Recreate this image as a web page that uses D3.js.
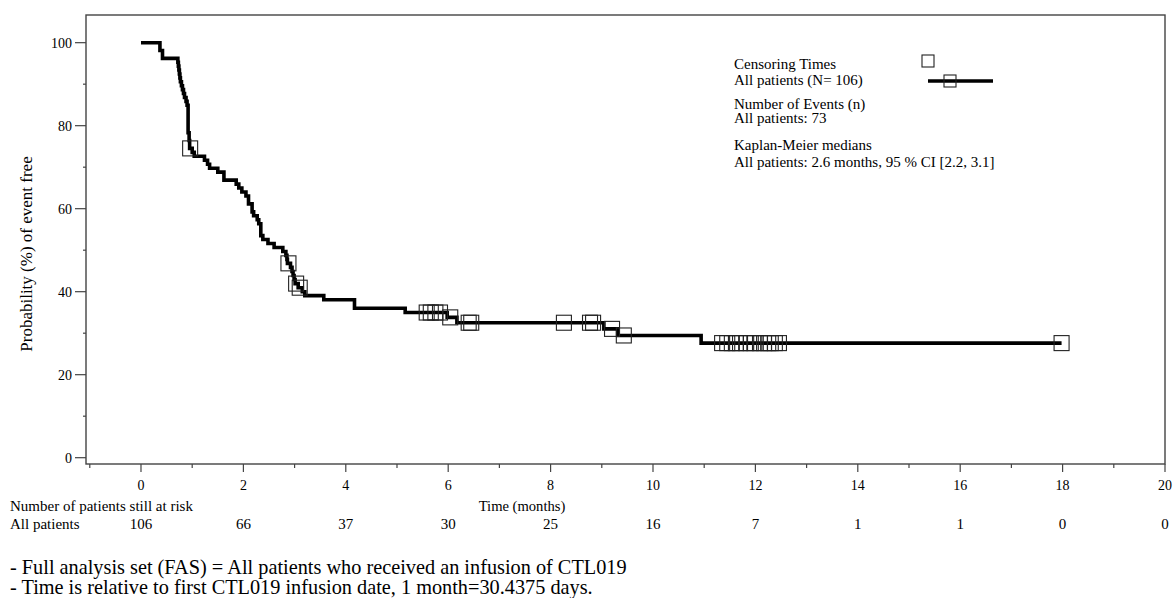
<!DOCTYPE html>
<html>
<head>
<meta charset="utf-8">
<script src="https://cdn.jsdelivr.net/npm/d3@7"></script>
<style>
  html, body { margin: 0; padding: 0; background: #fff; }
  svg { display: block; }
  text { font-family: "Liberation Serif", "Times New Roman", serif; fill: #000; }
</style>
</head>
<body>
<svg id="chart" width="1176" height="598"></svg>
<script>
// Kaplan-Meier step curve: event times (months) and survival (%) after each step
const stepTimes = [0, 0.37, 0.42, 0.72, 0.73, 0.74, 0.75, 0.76, 0.77, 0.79, 0.81, 0.83, 0.85, 0.88, 0.90,
  0.92, 0.94, 0.95, 1.00, 1.04, 1.24, 1.30, 1.34, 1.50, 1.62, 1.86, 1.91, 1.97, 2.05, 2.10, 2.17,
  2.20, 2.27, 2.30, 2.34, 2.38, 2.48, 2.60, 2.77, 2.83, 2.85, 2.86, 2.92, 2.95, 2.97, 2.99, 3.01,
  3.07, 3.15, 3.20, 3.57, 4.17, 5.16, 5.98, 6.17, 9.04, 9.31, 10.94];
const stepSurvival = [100, 98.11, 96.23, 95.28, 94.34, 93.40, 92.45, 91.51, 90.57, 89.62, 88.68, 87.74, 86.79, 85.85, 84.91,
  78.30, 76.42, 74.53, 73.57, 72.62, 71.66, 70.71, 69.75, 68.80, 66.89, 65.93, 64.98, 64.02, 63.06, 61.15, 59.24,
  58.29, 57.33, 56.38, 53.51, 52.56, 51.60, 50.65, 49.69, 48.74, 47.78, 46.83, 45.85, 44.87, 43.90, 42.92, 41.95,
  40.96, 40.00, 39.05, 38.07, 36.01, 34.98, 33.81, 32.52, 31.04, 29.45, 27.61];

// Censored observations (months)
const censorTimes = [0.96, 2.88, 3.03, 3.10, 5.58, 5.66, 5.75, 5.84, 6.04, 6.40, 6.45, 8.26, 8.77, 8.83,
  9.20, 9.43, 11.35, 11.45, 11.54, 11.62, 11.70, 11.82, 11.91, 11.98, 12.09, 12.17, 12.25, 12.30,
  12.38, 12.46, 17.98];

// Axis ticks and number at risk
const xTicks = [0, 2, 4, 6, 8, 10, 12, 14, 16, 18, 20];
const atRisk = [106, 66, 37, 30, 25, 16, 7, 1, 1, 0, 0];
const yTicks = [0, 20, 40, 60, 80, 100];

const legendLines = [
  "Censoring Times",
  "All patients (N= 106)",
  "Number of Events (n)",
  "All patients: 73",
  "Kaplan-Meier medians",
  "All patients: 2.6 months, 95 % CI [2.2, 3.1]"
];
const footnotes = [
  "- Full analysis set (FAS) = All patients who received an infusion of CTL019",
  "- Time is relative to first CTL019 infusion date, 1 month=30.4375 days."
];

const svg = d3.select("#chart");
const frame = { left: 86, top: 15, right: 1165, bottom: 464 };

const x = d3.scaleLinear().domain([-1.074, 20]).range([frame.left, frame.right]);
const y = d3.scaleLinear().domain([-1.52, 106.67]).range([frame.bottom, frame.top]);

// survival level at a given time (right-continuous step function)
function survivalAt(t) {
  let s = stepSurvival[0];
  for (let i = 0; i < stepTimes.length; i++) {
    if (stepTimes[i] <= t) s = stepSurvival[i];
  }
  return s;
}

// frame
svg.append("rect")
  .attr("x", frame.left).attr("y", frame.top)
  .attr("width", frame.right - frame.left).attr("height", frame.bottom - frame.top)
  .attr("fill", "none").attr("stroke", "#444").attr("stroke-width", 1.4);

// y axis ticks
const yAxis = svg.append("g");
yTicks.forEach(v => {
  yAxis.append("line")
    .attr("x1", frame.left - 11).attr("x2", frame.left)
    .attr("y1", y(v)).attr("y2", y(v))
    .attr("stroke", "#444").attr("stroke-width", 1.2);
  yAxis.append("text")
    .attr("x", frame.left - 14).attr("y", y(v) + 5)
    .attr("text-anchor", "end").attr("font-size", 14)
    .text(v);
});
d3.range(10, 100, 20).forEach(v => {
  yAxis.append("line")
    .attr("x1", frame.left - 3).attr("x2", frame.left)
    .attr("y1", y(v)).attr("y2", y(v))
    .attr("stroke", "#444").attr("stroke-width", 1.2);
});

svg.append("text")
  .attr("transform", "translate(32,254) rotate(-90)")
  .attr("text-anchor", "middle").attr("font-size", 17)
  .text("Probability (%) of event free");

// x axis ticks
const xAxis = svg.append("g");
xTicks.forEach(t => {
  xAxis.append("line")
    .attr("x1", x(t)).attr("x2", x(t))
    .attr("y1", frame.bottom).attr("y2", frame.bottom + 8)
    .attr("stroke", "#444").attr("stroke-width", 1.2);
  xAxis.append("text")
    .attr("x", x(t)).attr("y", frame.bottom + 26)
    .attr("text-anchor", "middle").attr("font-size", 14)
    .text(t);
});
d3.range(-1, 20, 2).forEach(t => {
  xAxis.append("line")
    .attr("x1", x(t)).attr("x2", x(t))
    .attr("y1", frame.bottom).attr("y2", frame.bottom + 4)
    .attr("stroke", "#444").attr("stroke-width", 1.2);
});

svg.append("text")
  .attr("x", 522).attr("y", 511)
  .attr("text-anchor", "middle").attr("font-size", 14.6)
  .text("Time (months)");

// number at risk table
svg.append("text").attr("x", 10).attr("y", 511).attr("font-size", 15)
  .text("Number of patients still at risk");
svg.append("text").attr("x", 10).attr("y", 529).attr("font-size", 15)
  .text("All patients");
xTicks.forEach((t, i) => {
  svg.append("text")
    .attr("x", x(t)).attr("y", 529)
    .attr("text-anchor", "middle").attr("font-size", 15)
    .text(atRisk[i]);
});

// KM curve
const lastCensor = censorTimes[censorTimes.length - 1];
const curvePoints = stepTimes.map((t, i) => [t, stepSurvival[i]]);
curvePoints.push([lastCensor, survivalAt(lastCensor)]);

const line = d3.line()
  .x(d => x(d[0]))
  .y(d => y(d[1]))
  .curve(d3.curveStepAfter);

svg.append("path")
  .datum(curvePoints)
  .attr("d", line)
  .attr("fill", "none")
  .attr("stroke", "#000")
  .attr("stroke-width", 3.6)
  .attr("stroke-linejoin", "miter");

// censor marks
const box = 15;
svg.append("g").selectAll("rect")
  .data(censorTimes)
  .join("rect")
  .attr("x", d => x(d) - box / 2)
  .attr("y", d => y(survivalAt(d)) - box / 2)
  .attr("width", box).attr("height", box)
  .attr("fill", "none")
  .attr("stroke", "#222")
  .attr("stroke-width", 1.1);

// legend
const lg = svg.append("g");
const legendY = [69, 85, 109, 123, 150, 167];
legendLines.forEach((s, i) => {
  lg.append("text")
    .attr("x", 734).attr("y", legendY[i])
    .attr("font-size", 15)
    .text(s);
});
lg.append("rect")
  .attr("x", 922).attr("y", 55).attr("width", 12).attr("height", 12)
  .attr("fill", "none").attr("stroke", "#222").attr("stroke-width", 1.1);
lg.append("line")
  .attr("x1", 928).attr("x2", 993).attr("y1", 81).attr("y2", 81)
  .attr("stroke", "#000").attr("stroke-width", 3.6);
lg.append("rect")
  .attr("x", 944).attr("y", 75).attr("width", 12).attr("height", 12)
  .attr("fill", "none").attr("stroke", "#222").attr("stroke-width", 1.1);

// footnotes
footnotes.forEach((s, i) => {
  svg.append("text")
    .attr("x", 10).attr("y", 574 + i * 20)
    .attr("font-size", 20.3)
    .text(s);
});
</script>
</body>
</html>
